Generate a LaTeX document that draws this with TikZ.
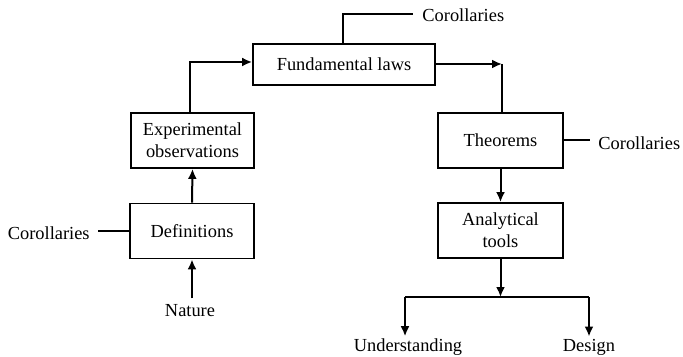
\documentclass[tikz,border=0pt]{standalone}
\usepackage{fontspec}
\setmainfont{Liberation Serif}
\usetikzlibrary{arrows.meta}
\begin{document}
\begin{tikzpicture}[x=0.5pt,y=-0.5pt,
  txt/.style={font=\fontsize{9.2}{11}\selectfont},
  box/.style={txt,draw,line width=0.9pt,minimum height=27.5pt,inner sep=0pt,align=center},
  lbl/.style={txt,inner sep=0pt},
  link/.style={line width=1pt},
  arr/.style={link,-{Latex[length=5pt,width=4.5pt]}}]
\useasboundingbox (0,0) rectangle (683,357);

% boxes
\node[box,minimum width=91pt,minimum height=20.5pt] (fund) at (344,64.5) {Fundamental laws};
\node[box,minimum width=61.5pt] (exp) at (192.5,140.5) {Experimental\\observations};
\node[box,minimum width=62pt] (def) at (192,231) {Definitions};
\node[box,minimum width=62.5pt] (thm) at (500.5,140.5) {Theorems};
\node[box,minimum width=62.5pt] (ana) at (500.5,230.5) {Analytical\\tools};

% free labels
\node[lbl,anchor=west] (cortop) at (422,15) {Corollaries};
\node[lbl,anchor=east] (corleft) at (90,233) {Corollaries};
\node[lbl,anchor=west] (corright) at (598,143) {Corollaries};
\node[lbl] (nat) at (190,311) {Nature};
\node[lbl] (und) at (408,347) {Understanding};
\node[lbl] (des) at (589,347) {Design};

% corollary ties
\coordinate (ct) at (343,14);
\draw[link,shorten >=4.5pt] (ct |- fund.north) -- (ct) -- (ct -| cortop.west);
\draw[link,shorten <=4pt] (def.west -| corleft.east) -- (def.west);
\draw[link,shorten >=4pt] (thm.east) -- (thm.east -| corright.west);

% main flow
\draw[arr,shorten <=3pt] (def.south |- nat.north) -- (def.south);
\draw[arr] (def.north) -- (exp.south);
\coordinate (c1) at (190,62);
\draw[arr] (c1 |- exp.north) -- (c1) -- (c1 -| fund.west);
\coordinate (c2) at (502,64);
\draw[arr] (c2 -| fund.east) -- (c2);
\draw[link] (c2) -- (c2 |- thm.north);
\draw[arr] (thm.south) -- (ana.north);

% branch to outcomes
\coordinate (bl) at (405,297);
\coordinate (brr) at (589,297);
\draw[arr] (ana.south) -- (ana.south |- bl);
\draw[link] (bl) -- (brr);
\draw[arr,shorten >=1pt] (bl) -- (bl |- und.north);
\draw[arr,shorten >=1pt] (brr) -- (brr |- des.north);
\end{tikzpicture}
\end{document}
